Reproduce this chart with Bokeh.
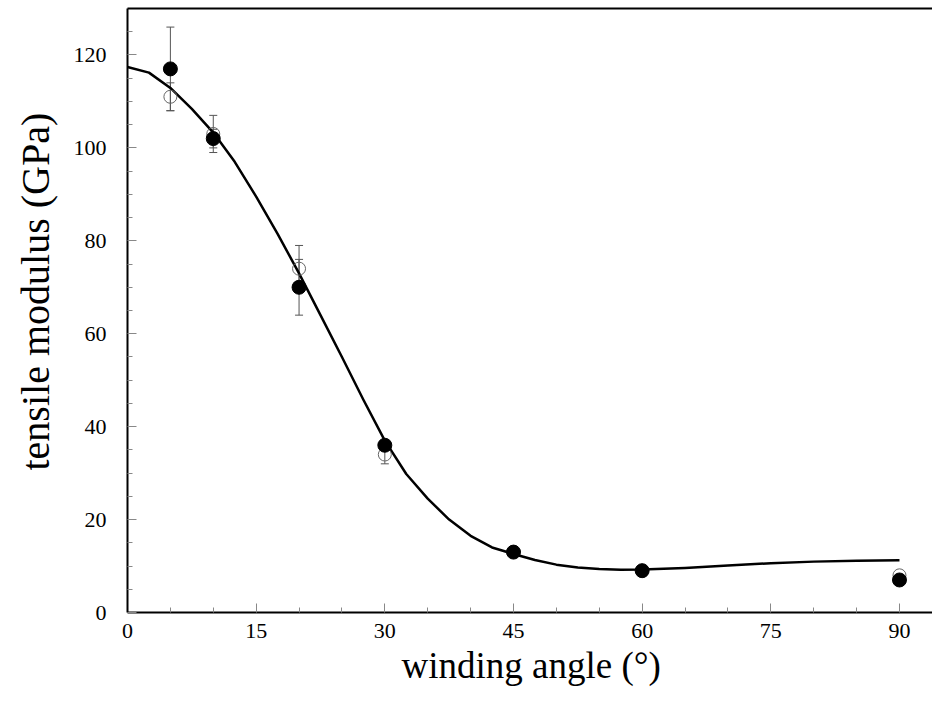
from bokeh.plotting import figure
from bokeh.models import (Range1d, LinearAxis, FixedTicker, Title, Whisker,
                          ColumnDataSource, TeeHead)
from bokeh.embed import file_html
from bokeh.resources import INLINE

# ---- data ----
angles = [5, 10, 20, 30, 45, 60, 90]
filled_mod = [117, 102, 70, 36, 13, 9, 7]
filled_err = [9, 2, 6, 1, 0, 0, 0]
open_mod = [111, 103, 74, 34, 13, 9, 8]
open_err = [3, 4, 5, 2, 0, 0, 0]

fit_angle = [0, 2.5, 5, 7.5, 10, 12.5, 15, 17.5, 20, 22.5, 25, 27.5, 30,
             32.5, 35, 37.5, 40, 42.5, 45, 47.5, 50, 52.5, 55, 57.5, 60,
             65, 70, 75, 80, 85, 90]
fit_mod = [117.4, 116.2, 112.9, 108.4, 103.3, 97.0, 89.5, 81.5, 73.0, 64.0,
           55.0, 45.8, 37.0, 29.8, 24.5, 20.0, 16.5, 14.0, 12.6, 11.3, 10.3,
           9.7, 9.35, 9.2, 9.25, 9.6, 10.1, 10.6, 10.95, 11.15, 11.25]

x_ticks = [0, 15, 30, 45, 60, 75, 90]
x_minor = [5, 10, 20, 25, 35, 40, 50, 55, 65, 70, 80, 85]
y_ticks = [0, 20, 40, 60, 80, 100, 120]
y_minor = [5, 10, 15, 25, 30, 35, 45, 50, 55, 65, 70, 75, 85, 90, 95,
           105, 110, 115, 125]

FONT = "Liberation Serif"

p = figure(width=932, height=719, output_backend="svg", toolbar_location=None,
           x_range=Range1d(0, 93.85), y_range=Range1d(0, 130),
           min_border_left=127, min_border_right=0, min_border_top=8,
           min_border_bottom=107, x_axis_location=None, y_axis_location=None)
p.outline_line_color = None
p.xgrid.visible = False
p.ygrid.visible = False
p.background_fill_color = "white"
p.border_fill_color = "white"


def style_axis(ax):
    ax.axis_line_color = "black"
    ax.axis_line_width = 2
    ax.major_tick_in = 9
    ax.major_tick_out = 0
    ax.minor_tick_in = 5
    ax.minor_tick_out = 0
    ax.major_tick_line_color = "#888888"
    ax.minor_tick_line_color = "#888888"
    ax.major_label_text_font = FONT
    ax.major_label_text_font_size = "22px"
    ax.major_label_text_color = "black"


xa = LinearAxis(ticker=FixedTicker(ticks=x_ticks, minor_ticks=x_minor))
style_axis(xa)
xa.major_label_standoff = 11
p.add_layout(xa, "below")

ya = LinearAxis(ticker=FixedTicker(ticks=y_ticks, minor_ticks=y_minor))
style_axis(ya)
ya.major_label_standoff = 21
p.add_layout(ya, "left")

top = LinearAxis(ticker=FixedTicker(ticks=[]), major_label_text_font_size="0px",
                 major_label_standoff=0, major_tick_out=0, major_tick_in=0,
                 minor_tick_out=0, minor_tick_in=0, axis_line_width=2,
                 axis_line_color="black")
p.add_layout(top, "above")

p.add_layout(Title(text="winding angle (°)", text_font=FONT,
                   text_font_size="37px", text_font_style="normal",
                   text_color="black", align="left", offset=274, standoff=4),
             "below")
p.add_layout(Title(text="tensile modulus (GPa)", text_font=FONT,
                   text_font_size="40px", text_font_style="normal",
                   text_color="black", align="left", offset=142, standoff=22,
                   vertical_align="top"),
             "left")

# error bars
src_f = ColumnDataSource(dict(x=angles, y=filled_mod,
                              lo=[m - e for m, e in zip(filled_mod, filled_err)],
                              hi=[m + e for m, e in zip(filled_mod, filled_err)]))
src_o = ColumnDataSource(dict(x=angles, y=open_mod,
                              lo=[m - e for m, e in zip(open_mod, open_err)],
                              hi=[m + e for m, e in zip(open_mod, open_err)]))
for s in (src_o, src_f):
    w = Whisker(source=s, base="x", lower="lo", upper="hi", level="underlay",
                line_color="#555555", line_width=1,
                upper_head=TeeHead(size=8, line_color="#555555", line_width=1),
                lower_head=TeeHead(size=8, line_color="#555555", line_width=1))
    p.add_layout(w)

p.line(fit_angle, fit_mod, line_color="black", line_width=2.5,
       line_join="round")
p.scatter("x", "y", source=src_o, size=13, fill_color=None,
          line_color="#666666", line_width=1)
p.scatter("x", "y", source=src_f, size=14, fill_color="black",
          line_color="black")

open("out.html", "w").write(file_html(p, INLINE))
